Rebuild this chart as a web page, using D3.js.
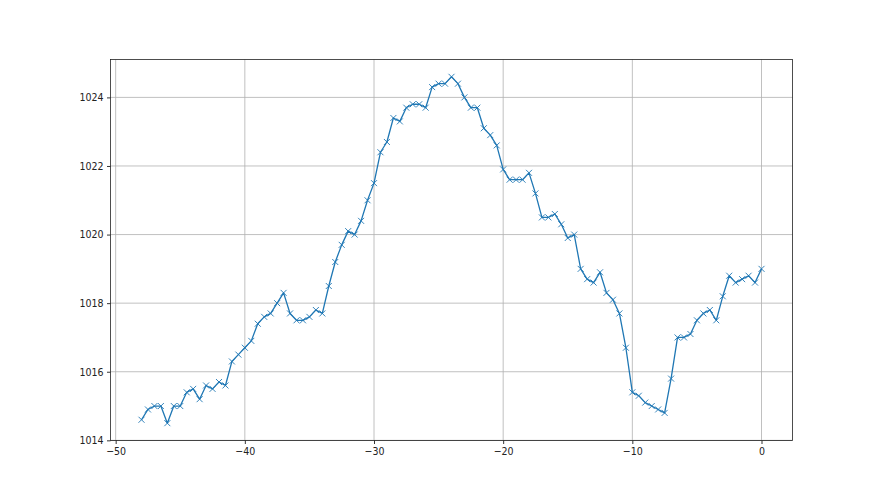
<!DOCTYPE html>
<html>
<head>
<meta charset="utf-8">
<script src="https://cdn.jsdelivr.net/npm/d3@7"></script>
<style>
  html, body { margin: 0; padding: 0; background: #fff; }
  svg { display: block; }
  text { font-family: "Liberation Sans Narrow", "DejaVu Sans Condensed", sans-serif; }
</style>
</head>
<body>
<svg id="chart" width="880" height="495"></svg>
<script>
// Hours (x) and pressure values (y)
const xValues = [
  -48, -47.5, -47, -46.5, -46, -45.5, -45, -44.5, -44, -43.5,
  -43, -42.5, -42, -41.5, -41, -40.5, -40, -39.5, -39, -38.5,
  -38, -37.5, -37, -36.5, -36, -35.5, -35, -34.5, -34, -33.5,
  -33, -32.5, -32, -31.5, -31, -30.5, -30, -29.5, -29, -28.5,
  -28, -27.5, -27, -26.5, -26, -25.5, -25, -24.5, -24, -23.5,
  -23, -22.5, -22, -21.5, -21, -20.5, -20, -19.5, -19, -18.5,
  -18, -17.5, -17, -16.5, -16, -15.5, -15, -14.5, -14, -13.5,
  -13, -12.5, -12, -11.5, -11, -10.5, -10, -9.5, -9, -8.5,
  -8, -7.5, -7, -6.5, -6, -5.5, -5, -4.5, -4, -3.5,
  -3, -2.5, -2, -1.5, -1, -0.5, 0
];
const pressure = [
  1014.6, 1014.9, 1015.0, 1015.0, 1014.5, 1015.0, 1015.0, 1015.4, 1015.5, 1015.2,
  1015.6, 1015.5, 1015.7, 1015.6, 1016.3, 1016.5, 1016.7, 1016.9, 1017.4, 1017.6,
  1017.7, 1018.0, 1018.3, 1017.7, 1017.5, 1017.5, 1017.6, 1017.8, 1017.7, 1018.5,
  1019.2, 1019.7, 1020.1, 1020.0, 1020.4, 1021.0, 1021.5, 1022.4, 1022.7, 1023.4,
  1023.3, 1023.7, 1023.8, 1023.8, 1023.7, 1024.3, 1024.4, 1024.4, 1024.6, 1024.4,
  1024.0, 1023.7, 1023.7, 1023.1, 1022.9, 1022.6, 1021.9, 1021.6, 1021.6, 1021.6,
  1021.8, 1021.2, 1020.5, 1020.5, 1020.6, 1020.3, 1019.9, 1020.0, 1019.0, 1018.7,
  1018.6, 1018.9, 1018.3, 1018.1, 1017.7, 1016.7, 1015.4, 1015.3, 1015.1, 1015.0,
  1014.9, 1014.8, 1015.8, 1017.0, 1017.0, 1017.1, 1017.5, 1017.7, 1017.8, 1017.5,
  1018.2, 1018.8, 1018.6, 1018.7, 1018.8, 1018.6, 1019.0
];
const xTicks = [-50, -40, -30, -20, -10, 0];
const yTicks = [1014, 1016, 1018, 1020, 1022, 1024];

(function () {
  const W = 880, H = 495;
  const pLeft = 110.5, pRight = 792.5, pTop = 59.5, pBottom = 440.5;
  const FONT = "'Liberation Sans Narrow', 'DejaVu Sans Condensed', sans-serif";

  const svg = d3.select("#chart");
  svg.append("rect").attr("width", W).attr("height", H).attr("fill", "#fff");

  const xMin = d3.min(xValues), xMax = d3.max(xValues);
  const yMin = d3.min(pressure), yMax = d3.max(pressure);
  const xPad = (xMax - xMin) * 0.05, yPad = (yMax - yMin) * 0.05;

  const x = d3.scaleLinear().domain([xMin - xPad, xMax + xPad]).range([pLeft, pRight]);
  const y = d3.scaleLinear().domain([yMin - yPad, yMax + yPad]).range([pBottom, pTop]);

  const fmt = d => String(d).replace("-", "\u2212");

  // Grid
  const grid = svg.append("g");
  grid.selectAll("line.gx").data(xTicks).enter().append("line")
    .attr("class", "gx")
    .attr("x1", d => x(d)).attr("x2", d => x(d))
    .attr("y1", pTop).attr("y2", pBottom)
    .attr("stroke", "#b0b0b0").attr("stroke-width", 0.8);
  grid.selectAll("line.gy").data(yTicks).enter().append("line")
    .attr("class", "gy")
    .attr("x1", pLeft).attr("x2", pRight)
    .attr("y1", d => y(d)).attr("y2", d => y(d))
    .attr("stroke", "#b0b0b0").attr("stroke-width", 0.8);

  // Axes
  const xAxis = d3.axisBottom(x).tickValues(xTicks).tickFormat(fmt).tickSizeInner(3.5).tickSizeOuter(0).tickPadding(3.5);
  const yAxis = d3.axisLeft(y).tickValues(yTicks).tickFormat(d => d).tickSizeInner(3.5).tickSizeOuter(0).tickPadding(3.5);

  const gx = svg.append("g").attr("transform", `translate(0,${pBottom})`).call(xAxis);
  const gy = svg.append("g").attr("transform", `translate(${pLeft},0)`).call(yAxis);
  [gx, gy].forEach(g => {
    g.select(".domain").remove();
    g.selectAll(".tick line").attr("stroke", "#000").attr("stroke-width", 0.8);
    g.selectAll(".tick text").attr("fill", "#222").style("font-family", FONT).style("font-size", "10.5px");
  });

  // Line
  const pts = xValues.map((v, i) => [v, pressure[i]]);
  const line = d3.line().x(d => x(d[0])).y(d => y(d[1]));
  svg.append("path").datum(pts)
    .attr("d", line).attr("fill", "none")
    .attr("stroke", "#1f77b4").attr("stroke-width", 1.3)
    .attr("stroke-linejoin", "round");

  // x markers
  const m = 3;
  const mk = svg.append("g");
  mk.selectAll("path").data(pts).enter().append("path")
    .attr("d", d => {
      const cx = x(d[0]), cy = y(d[1]);
      return `M${cx - m},${cy - m}L${cx + m},${cy + m}M${cx - m},${cy + m}L${cx + m},${cy - m}`;
    })
    .attr("stroke", "#1f77b4").attr("stroke-width", 0.9).attr("fill", "none");

  // Spines
  svg.append("rect").attr("x", pLeft).attr("y", pTop)
    .attr("width", pRight - pLeft).attr("height", pBottom - pTop)
    .attr("fill", "none").attr("stroke", "#222").attr("stroke-width", 0.8);
})();
</script>
</body>
</html>
